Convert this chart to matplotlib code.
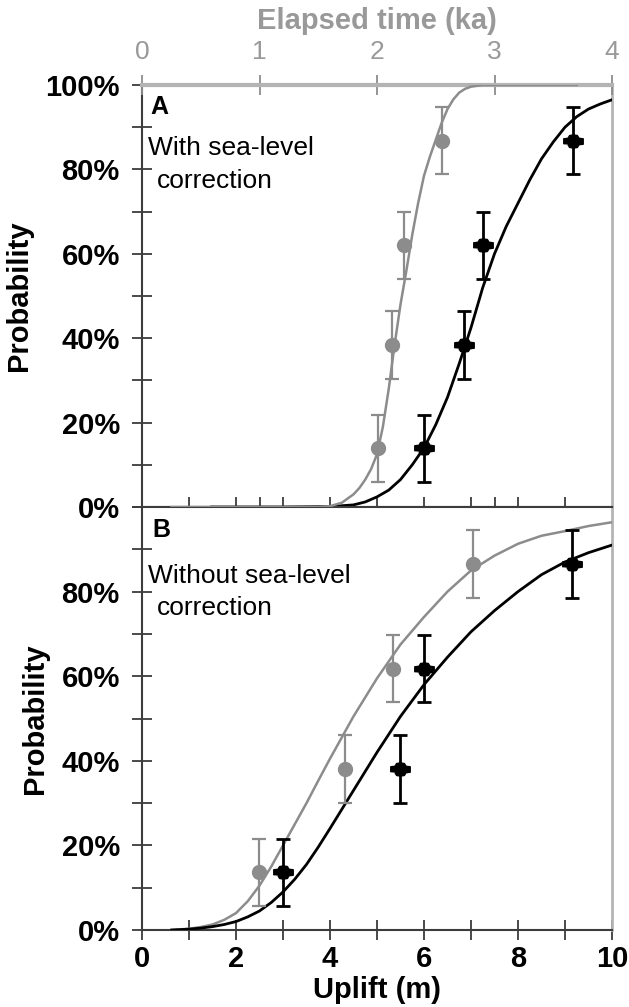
import matplotlib
matplotlib.use("Agg")
import matplotlib.pyplot as plt
from matplotlib.ticker import FixedLocator, FuncFormatter

# ---------------- data ----------------
# Panel A (with sea-level correction)
# gray series: elapsed time (ka) on the top axis
a_gray_t = [2.01, 2.13, 2.23, 2.55]
a_gray_p = [13.9, 38.4, 62.0, 86.8]
a_gray_err = [8.0, 8.0, 8.0, 8.0]
a_gray_curve_t = [0.25, 1.5, 1.6, 1.7, 1.75, 1.8, 1.85, 1.9, 1.95, 2.0, 2.05, 2.1,
                  2.15, 2.2, 2.25, 2.3, 2.35, 2.4, 2.45, 2.5, 2.55, 2.6, 2.65,
                  2.7, 2.75, 2.8, 2.9, 3.7]
a_gray_curve_p = [0, 0, 0.2, 1.0, 2.0, 3.0, 4.5, 6.5, 9.0, 12.5, 19, 28,
                  38.5, 48, 56, 64.5, 72, 78.5, 83, 87, 91, 94.3, 96.6,
                  98.2, 99.1, 99.6, 100, 100]
# black series: uplift (m) on the bottom axis
a_black_curve_x = [1.48, 3.0, 4.0, 4.5, 4.75, 5.0, 5.25, 5.5, 5.75, 6.0, 6.25,
                   6.5, 6.75, 7.0, 7.25, 7.5, 7.75, 8.0, 8.25, 8.5, 8.75, 9.0,
                   9.25, 9.5, 9.75, 10.0]
a_black_curve_p = [0, 0, 0.1, 0.5, 1.2, 2.4, 4.0, 6.5, 10, 14, 19.5,
                   26, 34, 42.5, 52, 60, 66.5, 72, 77.5, 82.5, 86.5, 90,
                   92.5, 94.3, 95.5, 96.5]
a_black_x = [5.99, 6.85, 7.26, 9.18]
a_black_p = [13.9, 38.4, 62.0, 86.8]
a_black_err = [8.0, 8.0, 8.0, 8.0]

# Panel B (without sea-level correction), uplift (m)
b_gray_x = [2.48, 4.32, 5.35, 7.05]
b_gray_p = [13.6, 38.0, 61.8, 86.5]
b_gray_err = [8.0, 8.0, 8.0, 8.0]
b_gray_curve_x = [0.63, 1.0, 1.25, 1.5, 1.75, 2.0, 2.25, 2.5, 2.75, 3.0, 3.25,
                  3.5, 3.75, 4.0, 4.5, 5.0, 5.5, 6.0, 6.5, 7.0, 7.5, 8.0, 8.5,
                  9.0, 9.5, 10.0]
b_gray_curve_p = [0, 0.3, 0.7, 1.3, 2.4, 4.0, 6.8, 10.5, 15, 20, 25,
                  30, 35.3, 40.5, 50.5, 59.5, 67.5, 74, 80, 85, 88.5, 91.3, 93.2,
                  94.3, 95.5, 96.4]
b_black_x = [3.01, 5.49, 5.99, 9.14]
b_black_p = [13.6, 38.0, 61.8, 86.5]
b_black_err = [8.0, 8.0, 8.0, 8.0]
b_black_curve_x = [0.63, 1.0, 1.25, 1.5, 1.75, 2.0, 2.25, 2.5, 2.75, 3.0, 3.25,
                   3.5, 3.75, 4.0, 4.5, 5.0, 5.5, 6.0, 6.5, 7.0, 7.5, 8.0, 8.5,
                   9.0, 9.5, 10.0]
b_black_curve_p = [0, 0.2, 0.45, 0.8, 1.3, 2.0, 3.1, 4.5, 6.5, 9, 12,
                   15.5, 19.6, 24, 33, 42, 50.5, 58, 64.5, 70.5, 75.5, 80, 84,
                   87, 89.2, 91]

uplift_ticks = list(range(0, 11))
uplift_labels = [0, 2, 4, 6, 8, 10]
mid_ticks = [1, 2, 2.5, 3, 4, 5, 6, 7, 7.5, 8, 9]
time_ticks = [0, 1, 2, 3, 4]
prob_ticks = list(range(0, 101, 10))

# ---------------- style ----------------
plt.rcParams['font.family'] = ['Liberation Sans', 'DejaVu Sans']
GRAY = '#8c8c8c'
LGRAY = '#b4b4b4'
DARK = '#3c3c3c'
FS = 20

blk_marker = [(-1.5, -0.42), (-1.5, 0.42), (-0.85, 0.5), (-0.6, 0.92), (0, 1.02),
              (0.6, 0.92), (0.85, 0.5), (1.5, 0.42), (1.5, -0.42), (0.85, -0.5),
              (0.6, -0.92), (0, -1.02), (-0.6, -0.92), (-0.85, -0.5)]

W, H = 629, 1007
fig = plt.figure(figsize=(W / 100, H / 100), dpi=100)
L, R = 142, 612
axA = fig.add_axes([L / W, 1 - 507 / H, (R - L) / W, (507 - 85) / H])
axB = fig.add_axes([L / W, 1 - 930 / H, (R - L) / W, (930 - 507) / H])


def style_y(ax, labels):
    ax.set_ylim(0, 100)
    ax.yaxis.set_major_locator(FixedLocator(prob_ticks))
    ax.yaxis.set_major_formatter(FuncFormatter(
        lambda v, p: f"{int(round(v))}%" if int(round(v)) in labels else ""))
    ax.tick_params(axis='y', direction='inout', length=14, width=1.3, color=DARK,
                   labelsize=FS + 1, pad=9)
    for t in ax.get_yticklabels():
        t.set_fontweight('bold')
    ax.set_ylabel('Probability', fontsize=FS + 1, fontweight='bold', labelpad=9)


for ax in (axA, axB):
    ax.set_xlim(0, 10)
    ax.spines['left'].set_color(DARK)
    ax.spines['left'].set_linewidth(1.5)
    ax.spines['bottom'].set_color(DARK)
    ax.spines['bottom'].set_linewidth(1.5)
    ax.spines['right'].set_color(LGRAY)
    ax.spines['right'].set_linewidth(2.0)
    ax.spines['top'].set_color(DARK)
    ax.spines['top'].set_linewidth(1.5)

style_y(axA, [0, 20, 40, 60, 80, 100])
style_y(axB, [0, 20, 40, 60, 80])

# A bottom (middle) axis ticks, no labels
axA.xaxis.set_major_locator(FixedLocator(mid_ticks))
axA.tick_params(axis='x', direction='inout', length=14, width=1.3, color=DARK,
                labelbottom=False)
axA.spines['top'].set_visible(False)

# B bottom axis
axB.xaxis.set_major_locator(FixedLocator(uplift_ticks))
axB.xaxis.set_major_formatter(FuncFormatter(
    lambda v, p: f"{int(v)}" if int(v) in uplift_labels else ""))
axB.tick_params(axis='x', direction='inout', length=14, width=1.3, color=DARK,
                labelsize=FS + 1, pad=4)
for t in axB.get_xticklabels():
    t.set_fontweight('bold')
axB.set_xlabel('Uplift (m)', fontsize=FS + 1, fontweight='bold', labelpad=2)

# top (time) axis for panel A
axT = axA.twiny()
axT.set_xlim(0, 4)
axT.set_ylim(0, 100)
axT.xaxis.set_major_locator(FixedLocator(time_ticks))
axT.tick_params(axis='x', direction='inout', length=14, width=1.3, color=GRAY,
                labelcolor='#999999', labelsize=FS - 1, pad=8)
for s in ('left', 'right', 'bottom'):
    axT.spines[s].set_visible(False)
axT.spines['top'].set_color(LGRAY)
axT.spines['top'].set_linewidth(3)
axT.set_xlabel('Elapsed time (ka)', fontsize=FS + 1, fontweight='bold',
               color='#999999', labelpad=8)

# ---------------- panel A ----------------
axT.plot(a_gray_curve_t, a_gray_curve_p, color=GRAY, lw=1.8, zorder=3)
axT.errorbar(a_gray_t, a_gray_p, yerr=a_gray_err, fmt='none', ecolor=GRAY,
             elinewidth=1.6, capsize=5, capthick=1.6, zorder=4)
axT.plot(a_gray_t, a_gray_p, 'o', color=GRAY, ms=10, zorder=5)

axA.plot(a_black_curve_x, a_black_curve_p, color='black', lw=2.0, zorder=3)
axA.errorbar(a_black_x, a_black_p, yerr=a_black_err, fmt='none', ecolor='black',
             elinewidth=2.0, capsize=5, capthick=2.0, zorder=4)
axA.plot(a_black_x, a_black_p, linestyle='none', marker=blk_marker, color='black',
         ms=14, zorder=5)

axA.text(0.017, 0.948, 'A', transform=axA.transAxes, fontsize=FS - 2,
         fontweight='bold', va='center', ha='left')
axA.text(0.013, 0.834, 'With sea-level', transform=axA.transAxes, fontsize=FS - 1,
         va='baseline', ha='left')
axA.text(0.032, 0.756, 'correction', transform=axA.transAxes, fontsize=FS - 1,
         va='baseline', ha='left')

# ---------------- panel B ----------------
axB.plot(b_gray_curve_x, b_gray_curve_p, color=GRAY, lw=1.8, zorder=3)
axB.errorbar(b_gray_x, b_gray_p, yerr=b_gray_err, fmt='none', ecolor=GRAY,
             elinewidth=1.6, capsize=5, capthick=1.6, zorder=4)
axB.plot(b_gray_x, b_gray_p, 'o', color=GRAY, ms=10, zorder=5)

axB.plot(b_black_curve_x, b_black_curve_p, color='black', lw=2.0, zorder=3)
axB.errorbar(b_black_x, b_black_p, yerr=b_black_err, fmt='none', ecolor='black',
             elinewidth=2.0, capsize=5, capthick=2.0, zorder=4)
axB.plot(b_black_x, b_black_p, linestyle='none', marker=blk_marker, color='black',
         ms=14, zorder=5)

axB.text(0.023, 0.946, 'B', transform=axB.transAxes, fontsize=FS - 2,
         fontweight='bold', va='center', ha='left')
axB.text(0.013, 0.82, 'Without sea-level', transform=axB.transAxes, fontsize=FS - 1,
         va='baseline', ha='left')
axB.text(0.032, 0.745, 'correction', transform=axB.transAxes, fontsize=FS - 1,
         va='baseline', ha='left')

fig.savefig('out.png', dpi=100)
